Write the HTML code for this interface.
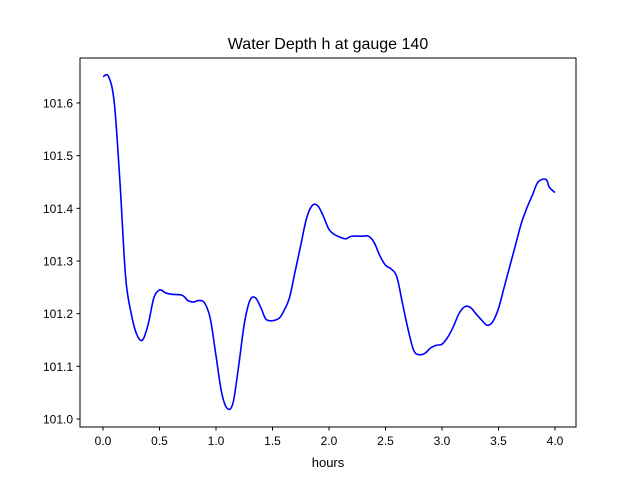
<!DOCTYPE html>
<html><head><meta charset="utf-8"><style>
body{margin:0;background:#fff;}
svg text{font-family:"Liberation Sans","DejaVu Sans",sans-serif;fill:#000;}
</style></head><body>
<svg id="chart" width="640" height="480" xmlns="http://www.w3.org/2000/svg">
<rect width="640" height="480" fill="#fff"/>
<text x="328" y="49" font-size="16" text-anchor="middle">Water Depth h at gauge 140</text>
<g id="plot"></g>
<rect x="80" y="58" width="496" height="369" fill="none" stroke="#000" stroke-width="1"/>
<text x="328" y="467" font-size="13" text-anchor="middle">hours</text>
</svg>
<script>
const hours=[0,0.05,0.1,0.15,0.2,0.25,0.3,0.35,0.4,0.45,0.5,0.55,0.6,0.7,0.75,0.8,0.85,0.9,0.95,1.0,1.05,1.1,1.15,1.2,1.25,1.3,1.35,1.4,1.45,1.55,1.6,1.65,1.7,1.75,1.8,1.85,1.9,1.95,2.0,2.05,2.1,2.15,2.2,2.3,2.35,2.4,2.45,2.5,2.55,2.6,2.65,2.7,2.75,2.8,2.85,2.9,2.95,3.0,3.05,3.1,3.15,3.2,3.25,3.3,3.35,3.4,3.45,3.5,3.55,3.6,3.65,3.7,3.75,3.8,3.85,3.92,3.95,4.0];
const depth=[101.65,101.65,101.6,101.45,101.27,101.2,101.16,101.15,101.18,101.23,101.245,101.24,101.237,101.235,101.225,101.222,101.225,101.22,101.19,101.12,101.05,101.02,101.03,101.1,101.18,101.225,101.23,101.21,101.188,101.19,101.205,101.23,101.28,101.33,101.38,101.405,101.405,101.385,101.36,101.35,101.345,101.342,101.347,101.347,101.347,101.335,101.31,101.292,101.285,101.27,101.22,101.17,101.13,101.122,101.125,101.135,101.14,101.142,101.155,101.175,101.2,101.213,101.212,101.2,101.188,101.178,101.185,101.21,101.25,101.29,101.33,101.37,101.4,101.425,101.45,101.455,101.44,101.43];
const xTicks=[0,0.5,1,1.5,2,2.5,3,3.5,4];
const xTickLabels=["0.0","0.5","1.0","1.5","2.0","2.5","3.0","3.5","4.0"];
const yTicks=[101.0,101.1,101.2,101.3,101.4,101.5,101.6];
const yTickLabels=["101.0","101.1","101.2","101.3","101.4","101.5","101.6"];
const xs=v=>103+v*113;
const ys=v=>419-(v-101)*526.7;
const NS="http://www.w3.org/2000/svg";
const g=document.getElementById('plot');
function mk(t,a){const e=document.createElementNS(NS,t);for(const k in a)e.setAttribute(k,a[k]);g.appendChild(e);return e;}
xTicks.forEach((t,i)=>{
  const l=mk('line',{x1:xs(t),x2:xs(t),y1:427,y2:430.5,stroke:'#000'});
  
  
  const tx=mk('text',{x:xs(t),y:445,'font-size':12,'text-anchor':'middle'});
  tx.textContent=xTickLabels[i];
  
  
});
yTicks.forEach((t,i)=>{
  const l=mk('line',{x1:76.5,x2:80,y1:ys(t),y2:ys(t),stroke:'#000'});
  
  
  const tx=mk('text',{x:73,y:ys(t)+4.5,'font-size':12,'text-anchor':'end'});
  tx.textContent=yTickLabels[i];
  
  
});
const pts=hours.map((h,i)=>[xs(h),ys(depth[i])]);
let d='M'+pts[0][0]+','+pts[0][1];
for(let i=0;i<pts.length-1;i++){
  const p0=pts[Math.max(0,i-1)],p1=pts[i],p2=pts[i+1],p3=pts[Math.min(pts.length-1,i+2)];
  const c1=[p1[0]+(p2[0]-p0[0])/6,p1[1]+(p2[1]-p0[1])/6];
  const c2=[p2[0]-(p3[0]-p1[0])/6,p2[1]-(p3[1]-p1[1])/6];
  d+=' C'+c1+' '+c2+' '+p2;
}
const line=mk('path',{d:d,fill:'none',stroke:'#0000ff','stroke-width':1.6,'stroke-linejoin':'round'});


</script>
</body></html>
